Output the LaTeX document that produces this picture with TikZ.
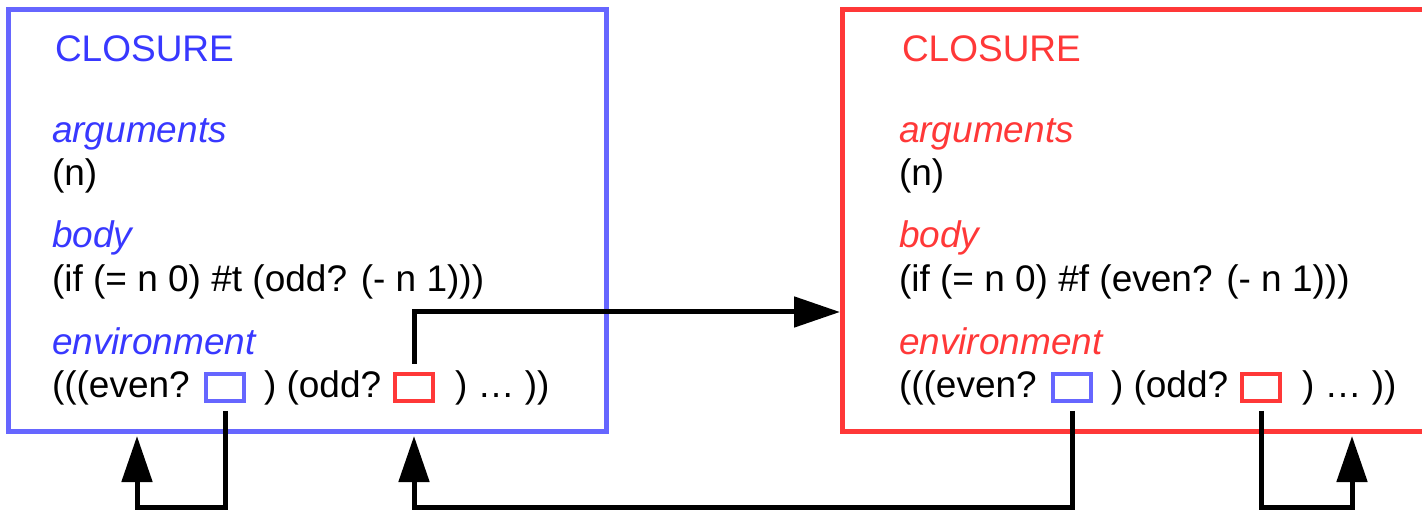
\documentclass[tikz,border=0pt]{standalone}
\usepackage{fontspec}
\setmainfont{Liberation Sans}
\usetikzlibrary{arrows.meta}
\definecolor{frameblue}{HTML}{6666FF}
\definecolor{textblue}{HTML}{3838FF}
\definecolor{closred}{HTML}{FF3838}

\begin{document}
\begin{tikzpicture}[x=1pt,y=-1pt,
  every node/.style={inner sep=0pt, outer sep=0pt},
  code/.style={anchor=base west, text=black, font=\fontsize{37}{44}\selectfont},
  head/.style={anchor=base west, font=\fontsize{37}{44}\selectfont},
  field/.style={anchor=base west, font=\fontsize{37}{44}\selectfont\itshape},
  frame/.style={draw, rectangle, line width=5pt, minimum height=422pt},
  slot/.style={draw, rectangle, line width=4.5pt, minimum width=38pt, minimum height=27pt},
  link/.style={line width=5pt, line join=miter},
  tip/.style={-{Triangle[length=46pt,width=30pt]}}
]
\useasboundingbox (0,0) rectangle (1422,510);
\clip (0,0) rectangle (1422,510);

% closure frames (the red one runs past the right margin)
\node[frame, draw=frameblue, minimum width=598pt] (lbox) at (307,221) {};
\node[frame, draw=closred, minimum width=640pt] (rbox) at (1162,221) {};

% even? closure
\node[head, text=textblue] (ltitle) at (55,62) {CLOSURE};
\node[field, text=textblue] (largs) at (52,143) {arguments};
\node[code] (largv) at (52,186) {(n)};
\node[field, text=textblue] (lbody) at (52,248) {body};
\node[code] (lbodyv) at (52,292) {(if (= n 0) \#t (odd? (- n 1)))};
\node[field, text=textblue] (lenv) at (52,355) {environment};
\node[code] (lenv1) at (52,398) {(((even?};
\node[slot, draw=frameblue] (lsb) at (225,387.5) {};
\node[code] (lenv2) at (264,398) {) (odd?};
\node[slot, draw=closred] (lsr) at (414,387.5) {};
\node[code] (lenv3) at (455,398) {) … ))};

% odd? closure
\node[head, text=closred] (rtitle) at (902,62) {CLOSURE};
\node[field, text=closred] (rargs) at (899,143) {arguments};
\node[code] (rargv) at (899,186) {(n)};
\node[field, text=closred] (rbody) at (899,248) {body};
\node[code] (rbodyv) at (899,292) {(if (= n 0) \#f (even? (- n 1)))};
\node[field, text=closred] (renv) at (899,355) {environment};
\node[code] (renv1) at (899,398) {(((even?};
\node[slot, draw=frameblue] (rsb) at (1072,387.5) {};
\node[code] (renv2) at (1111,398) {) (odd?};
\node[slot, draw=closred] (rsr) at (1261,387.5) {};
\node[code] (renv3) at (1302,398) {) … ))};

% routing helpers
\coordinate (upper) at (0,312);
\coordinate (lower) at (0,507);
\coordinate (lret) at (137,507);
\coordinate (rret) at (1352,507);

% environment pointers
\draw[link, tip] ([yshift=10pt]lsr.north) |- ([xshift=-2pt]rbox.west |- upper);
\draw[link, tip] ([yshift=-10pt]lsb.south) |- (lret) -- ([yshift=-4pt]lret |- lbox.south);
\draw[link, tip] ([yshift=-10pt]rsb.south) |- (lsr |- lower) -- ([yshift=-4pt]lsr |- lbox.south);
\draw[link, tip] ([yshift=-10pt]rsr.south) |- (rret) -- ([yshift=-4pt]rret |- rbox.south);
\end{tikzpicture}
\end{document}
